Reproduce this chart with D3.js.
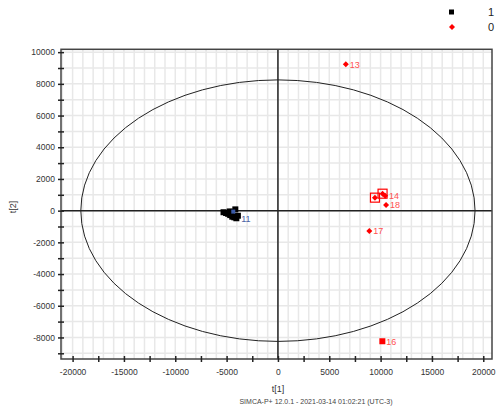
<!DOCTYPE html>
<html>
<meta charset="utf-8">
<head>
<script src="https://d3js.org/d3.v7.min.js"></script>
<style>
  body { margin: 0; background: #fff; }
  text { font-family: "Liberation Sans", Arial, sans-serif; }
</style>
</head>
<body>
<script>
// class "1" scores (black squares)
var class1X = [-5300, -5050, -4850, -4650, -4450, -4250, -4050, -4500, -4150, -3900, -4700, -4350];
var class1Y = [-100, -150, -200, -280, -380, -420, -480, -80, 80, -320, -50, -60];
var class1Labels = ["", "", "", "", "", "", "", "", "", "", "", "11"];

// class "0" scores (red)
var class0X = [6610, 10170, 10440, 10530, 8900, 9450, 10190];
var class0Y = [9240, -8240, 940, 360, -1280, 820, 1070];
var class0Labels = ["13", "16", "14", "18", "17", "", ""];
var class0Shape = ["diamond", "square", "diamond", "diamond", "diamond", "diamond", "diamond"];
var selected = [5, 6]; // drawn with open squares

var xTicks = [-20000, -15000, -10000, -5000, 0, 5000, 10000, 15000, 20000];
var yTicks = [-8000, -6000, -4000, -2000, 0, 2000, 4000, 6000, 8000, 10000];

// Hotelling T2 ellipse radii
var ellipseRx = 19200, ellipseRy = 8250;

var width = 500, height = 412;
var svg = d3.select("body").append("svg")
  .attr("width", width).attr("height", height);

var x = d3.scaleLinear().domain([-21130, 20850]).range([61, 492]);
var y = d3.scaleLinear().domain([-9360, 10180]).range([359, 49.3]);

// grille
var g = svg.append("g");
g.selectAll(".gx").data(d3.range(-21000, 21000, 1000))
  .join("line")
  .attr("x1", d => x(d)).attr("x2", d => x(d))
  .attr("y1", y.range()[1]).attr("y2", y.range()[0])
  .attr("stroke", "#e8e8e8").attr("stroke-width", 1.5);
g.selectAll(".gy").data(d3.range(-9000, 10500, 1000))
  .join("line")
  .attr("x1", x.range()[0]).attr("x2", x.range()[1])
  .attr("y1", d => y(d)).attr("y2", d => y(d))
  .attr("stroke", "#e8e8e8").attr("stroke-width", 1.5);

// axes at zero
g.append("line").attr("x1", x(0)).attr("x2", x(0))
  .attr("y1", y.range()[1]).attr("y2", y.range()[0])
  .attr("stroke", "#222").attr("stroke-width", 1.5);
g.append("line").attr("x1", x.range()[0]).attr("x2", x.range()[1])
  .attr("y1", y(0)).attr("y2", y(0))
  .attr("stroke", "#222").attr("stroke-width", 1.5);

// frame
svg.append("rect")
  .attr("x", x.range()[0]).attr("y", y.range()[1])
  .attr("width", x.range()[1] - x.range()[0])
  .attr("height", y.range()[0] - y.range()[1])
  .attr("fill", "none").attr("stroke", "#444").attr("stroke-width", 1.5);

// ellipse
svg.append("ellipse")
  .attr("cx", x(0)).attr("cy", y(0))
  .attr("rx", x(ellipseRx) - x(0)).attr("ry", y(0) - y(ellipseRy))
  .attr("fill", "none").attr("stroke", "#222").attr("stroke-width", 1);

// axes
var xAxis = d3.axisBottom(x).tickValues(d3.range(-20000, 20001, 2500))
  .tickSize(3).tickFormat(d => xTicks.indexOf(d) >= 0 ? d : "");
var gx = svg.append("g").attr("transform", "translate(0," + y.range()[0] + ")").call(xAxis);
gx.select(".domain").remove();
gx.selectAll(".tick line").attr("y1", -3).attr("y2", 3).attr("stroke", "#222").attr("stroke-width", 1.5);
gx.selectAll("text").attr("y", 10).attr("font-size", 8.5).attr("fill", "#333")
  .attr("font-family", "Liberation Sans, Arial, sans-serif");

var yAxis = d3.axisLeft(y).tickValues(d3.range(-9000, 10001, 1000))
  .tickSize(3).tickFormat(d => yTicks.indexOf(d) >= 0 ? d : "");
var gy = svg.append("g").attr("transform", "translate(" + x.range()[0] + ",0)").call(yAxis);
gy.select(".domain").remove();
gy.selectAll(".tick line").attr("x1", -3).attr("x2", 3).attr("stroke", "#222").attr("stroke-width", 1.5);
gy.selectAll("text").attr("x", -6).attr("font-size", 8.5).attr("fill", "#333")
  .attr("font-family", "Liberation Sans, Arial, sans-serif");

// titres
svg.append("text").attr("x", x(0)).attr("y", 392).attr("text-anchor", "middle")
  .attr("font-size", 9).attr("fill", "#333").text("t[1]");
svg.append("text").attr("transform", "translate(16,207) rotate(-90)")
  .attr("text-anchor", "middle").attr("font-size", 9).attr("fill", "#333").text("t[2]");
svg.append("text").attr("x", 316).attr("y", 404).attr("text-anchor", "middle")
  .attr("font-size", 7).attr("fill", "#444")
  .text("SIMCA-P+ 12.0.1 - 2021-03-14 01:02:21 (UTC-3)");

// class 1 points
var pts = svg.append("g");
class1X.forEach(function (vx, i) {
  var last = i == class1X.length - 1;
  var s = last ? 4 : 6;
  pts.append("rect")
    .attr("x", x(vx) - s / 2).attr("y", y(class1Y[i]) - s / 2)
    .attr("width", s).attr("height", s)
    .attr("fill", last ? "#3a5aa8" : "#000");
  if (class1Labels[i]) {
    pts.append("text").attr("x", x(vx) + 8).attr("y", y(class1Y[i]) + 10)
      .attr("font-size", 9).attr("fill", "#4a64a4").text(class1Labels[i]);
  }
});

// class 0 points
var diamond = d3.symbol().type(d3.symbolSquare).size(18);
class0X.forEach(function (vx, i) {
  var px = x(vx), py = y(class0Y[i]);
  if (class0Shape[i] == "square") {
    pts.append("rect").attr("x", px - 3).attr("y", py - 3)
      .attr("width", 6).attr("height", 6).attr("fill", "#f00");
  } else {
    pts.append("path").attr("d", diamond)
      .attr("transform", "translate(" + px + "," + py + ") rotate(45)").attr("fill", "#f00");
  }
  if (class0Labels[i]) {
    pts.append("text").attr("x", px + 4).attr("y", py + 3.5)
      .attr("font-size", 9).attr("fill", "#ff5050").text(class0Labels[i]);
  }
});
selected.forEach(function (i) {
  pts.append("rect")
    .attr("x", x(class0X[i]) - 4.5).attr("y", y(class0Y[i]) - 4.5)
    .attr("width", 9).attr("height", 9)
    .attr("fill", "none").attr("stroke", "#f00").attr("stroke-width", 1.2);
});

// legend
var legend = svg.append("g");
legend.append("rect").attr("x", 449).attr("y", 9.5).attr("width", 5).attr("height", 5).attr("fill", "#000");
legend.append("path").attr("d", diamond).attr("transform", "translate(452,27) rotate(45)").attr("fill", "#f00");
legend.append("text").attr("x", 488).attr("y", 16).attr("font-size", 11).attr("fill", "#222").text("1");
legend.append("text").attr("x", 488).attr("y", 31).attr("font-size", 11).attr("fill", "#222").text("0");
</script>
</body>
</html>
